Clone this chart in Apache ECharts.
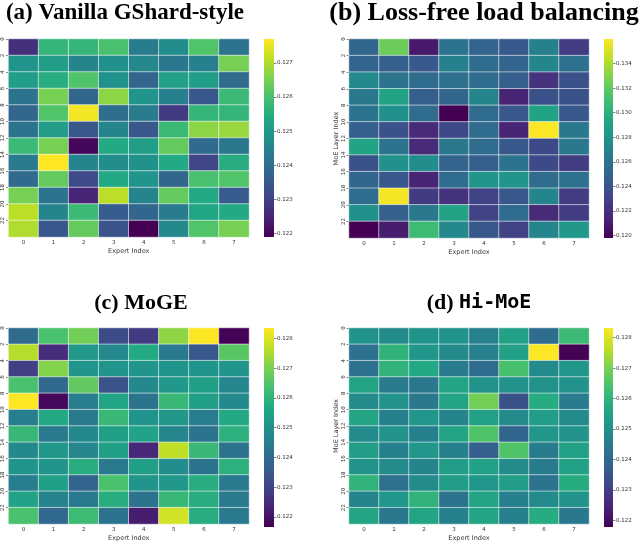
<!DOCTYPE html>
<html>
<head>
<meta charset="utf-8">
<script src="https://cdn.jsdelivr.net/npm/echarts@6/dist/echarts.min.js"></script>
<style>html,body{margin:0;padding:0;background:#fff;}#c{width:644px;height:543px;}</style>
</head>
<body>
<div id="c"></div>
<script>
const experts = ['0','1','2','3','4','5','6','7'];
const rowLabels = ['0','2','4','6','8','10','12','14','16','18','20','22'];

const vanilla = [
  [0.1227,0.1257,0.1257,0.1260,0.1243,0.1247,0.1261,0.1241],
  [0.1249,0.1251,0.1245,0.1248,0.1246,0.1242,0.1244,0.1265],
  [0.1251,0.1255,0.1261,0.1248,0.1238,0.1252,0.1251,0.1239],
  [0.1241,0.1265,0.1238,0.1267,0.1249,0.1244,0.1235,0.1258],
  [0.1238,0.1261,0.1276,0.1240,0.1243,0.1229,0.1257,0.1257],
  [0.1241,0.1251,0.1235,0.1245,0.1235,0.1258,0.1267,0.1268],
  [0.1258,0.1265,0.1220,0.1254,0.1251,0.1263,0.1239,0.1242],
  [0.1243,0.1277,0.1245,0.1247,0.1248,0.1254,0.1231,0.1255],
  [0.1239,0.1263,0.1232,0.1254,0.1249,0.1238,0.1260,0.1261],
  [0.1265,0.1241,0.1225,0.1271,0.1245,0.1263,0.1254,0.1236],
  [0.1271,0.1245,0.1258,0.1236,0.1238,0.1243,0.1253,0.1254],
  [0.1270,0.1235,0.1263,0.1234,0.1219,0.1246,0.1261,0.1265]
];
const lossFree = [
  [0.1251,0.1323,0.1209,0.1260,0.1250,0.1243,0.1268,0.1227],
  [0.1250,0.1247,0.1243,0.1268,0.1255,0.1250,0.1271,0.1258],
  [0.1274,0.1260,0.1255,0.1258,0.1255,0.1247,0.1222,0.1238],
  [0.1263,0.1292,0.1247,0.1251,0.1271,0.1214,0.1238,0.1238],
  [0.1260,0.1279,0.1255,0.1198,0.1255,0.1242,0.1292,0.1242],
  [0.1247,0.1238,0.1217,0.1234,0.1255,0.1214,0.1360,0.1263],
  [0.1292,0.1260,0.1217,0.1263,0.1255,0.1243,0.1234,0.1263],
  [0.1238,0.1279,0.1276,0.1250,0.1247,0.1260,0.1234,0.1227],
  [0.1251,0.1242,0.1214,0.1255,0.1282,0.1282,0.1255,0.1258],
  [0.1255,0.1358,0.1226,0.1222,0.1230,0.1242,0.1271,0.1227],
  [0.1279,0.1247,0.1263,0.1292,0.1230,0.1255,0.1217,0.1227],
  [0.1198,0.1211,0.1308,0.1274,0.1242,0.1230,0.1271,0.1284]
];
const moge = [
  [0.1240,0.1264,0.1269,0.1232,0.1228,0.1272,0.1284,0.1217],
  [0.1276,0.1225,0.1252,0.1248,0.1257,0.1244,0.1235,0.1266],
  [0.1229,0.1271,0.1251,0.1251,0.1251,0.1251,0.1251,0.1251],
  [0.1264,0.1240,0.1267,0.1234,0.1248,0.1252,0.1254,0.1247],
  [0.1284,0.1218,0.1245,0.1256,0.1242,0.1261,0.1254,0.1248],
  [0.1245,0.1257,0.1244,0.1261,0.1251,0.1252,0.1245,0.1257],
  [0.1261,0.1244,0.1248,0.1254,0.1255,0.1247,0.1242,0.1259],
  [0.1248,0.1252,0.1247,0.1254,0.1224,0.1277,0.1261,0.1242],
  [0.1251,0.1251,0.1258,0.1244,0.1254,0.1249,0.1242,0.1259],
  [0.1245,0.1254,0.1238,0.1264,0.1251,0.1252,0.1258,0.1244],
  [0.1255,0.1246,0.1244,0.1258,0.1242,0.1261,0.1258,0.1244],
  [0.1264,0.1239,0.1262,0.1242,0.1222,0.1279,0.1258,0.1244]
];
const hiMoe = [
  [0.1251,0.1249,0.1251,0.1251,0.1246,0.1255,0.1241,0.1262],
  [0.1242,0.1260,0.1252,0.1249,0.1246,0.1255,0.1283,0.1218],
  [0.1242,0.1260,0.1257,0.1245,0.1241,0.1264,0.1249,0.1252],
  [0.1256,0.1245,0.1244,0.1256,0.1251,0.1251,0.1251,0.1251],
  [0.1249,0.1251,0.1244,0.1256,0.1269,0.1234,0.1258,0.1245],
  [0.1256,0.1246,0.1252,0.1247,0.1255,0.1249,0.1254,0.1249],
  [0.1249,0.1251,0.1246,0.1256,0.1265,0.1239,0.1252,0.1251],
  [0.1254,0.1246,0.1252,0.1246,0.1238,0.1265,0.1245,0.1255],
  [0.1251,0.1249,0.1247,0.1254,0.1255,0.1249,0.1245,0.1255],
  [0.1260,0.1242,0.1249,0.1254,0.1252,0.1254,0.1243,0.1258],
  [0.1247,0.1252,0.1260,0.1243,0.1256,0.1246,0.1249,0.1251],
  [0.1256,0.1244,0.1256,0.1246,0.1256,0.1246,0.1258,0.1244]
];

const ranges = [[0.1219,0.1277],[0.1198,0.1360],[0.12166,0.12835],[0.12178,0.12832]];
const cbTicks = [
  [0.122,0.123,0.124,0.125,0.126,0.127],
  [0.120,0.122,0.124,0.126,0.128,0.130,0.132,0.134],
  [0.122,0.123,0.124,0.125,0.126,0.127,0.128],
  [0.122,0.123,0.124,0.125,0.126,0.127,0.128]
];
const titles = ['(a) Vanilla GShard-style','(b) Loss-free load balancing','(c) MoGE','(d) '];

const viridis = ['#440154','#482475','#414487','#355f8d','#2a788e','#21918c','#22a884','#44bf70','#7ad151','#bddf26','#fde725'];

const panels = [vanilla, lossFree, moge, hiMoe];
const boxes = [
  {l:8, t:39, w:241, h:198, cb:264, cbw:10, yname:false},
  {l:349, t:39, w:240, h:199, cb:604, cbw:9, yname:true},
  {l:8, t:328, w:241, h:199, cb:264, cbw:10, yname:false},
  {l:349, t:328, w:240, h:199, cb:604, cbw:9, yname:true}
];

const grid = [], xAxis = [], yAxis = [], series = [], visualMap = [];
const lab = {fontFamily:'DejaVu Sans', fontSize:5.5, color:'#333'};
const nameStyle = {fontFamily:'DejaVu Sans', fontSize:6.5, color:'#333'};
const gradStops = viridis.map((c,i)=>({offset:1 - i/(viridis.length-1), color:c}));

panels.forEach((mat, p) => {
  const b = boxes[p];
  grid.push({left:b.l, top:b.t, width:b.w, height:b.h, containLabel:false});
  const gi = grid.length - 1;
  xAxis.push({type:'category', gridIndex:gi, data:experts, position:'bottom',
    axisLine:{show:false}, axisTick:{show:true, alignWithLabel:true, length:2.5, lineStyle:{color:'#333', width:0.6}},
    axisLabel:Object.assign({margin:3}, lab), splitLine:{show:false},
    name:'Expert Index', nameLocation:'middle', nameGap:11, nameTextStyle:nameStyle});
  const hx = xAxis.length - 1;
  yAxis.push({type:'category', gridIndex:gi, data:rowLabels, inverse:true, show:false});
  const hy = yAxis.length - 1;
  yAxis.push({type:'value', gridIndex:gi, min:0, max:24, interval:2, inverse:true, position:'left',
    axisLine:{show:false}, splitLine:{show:false},
    axisTick:{show:true, length:2.5, lineStyle:{color:'#333', width:0.6}},
    axisLabel:Object.assign({rotate:90, margin:2.5, showMaxLabel:false,
      formatter:(v)=> rowLabels.indexOf(String(v))>=0 ? String(v) : ''}, lab),
    name: b.yname ? 'MoE Layer Index' : '', nameLocation:'middle', nameGap:9, nameTextStyle:nameStyle});
  const data = [];
  mat.forEach((row, r) => row.forEach((v, c) => data.push([c, r, v])));
  series.push({type:'heatmap', xAxisIndex:hx, yAxisIndex:hy, data:data,
    itemStyle:{borderColor:'rgba(255,255,255,0.55)', borderWidth:1}, emphasis:{disabled:true}});
  visualMap.push({type:'continuous', show:false, seriesIndex:series.length-1, dimension:2,
    min:ranges[p][0], max:ranges[p][1], inRange:{color:viridis}});

  grid.push({left:b.cb, top:b.t, width:b.cbw, height:b.h, show:true, borderWidth:0,
    backgroundColor:{type:'linear', x:0, y:0, x2:0, y2:1, colorStops:gradStops}});
  const ci = grid.length - 1;
  xAxis.push({type:'category', gridIndex:ci, data:['a'], show:false});
  yAxis.push({type:'value', gridIndex:ci, min:ranges[p][0], max:ranges[p][1], position:'right',
    axisLine:{show:false}, splitLine:{show:false},
    axisTick:{show:true, length:2.5, customValues:cbTicks[p], lineStyle:{color:'#333', width:0.6}},
    axisLabel:Object.assign({margin:3, customValues:cbTicks[p], formatter:(v)=>v.toFixed(3)}, lab)});
});

const serifA = 'bold 23px "Liberation Serif", "DejaVu Serif", serif';
const serifB = 'bold 26px "Liberation Serif", "DejaVu Serif", serif';
const serifC = 'bold 22px "Liberation Serif", "DejaVu Serif", serif';
const graphic = [
  {type:'text', x:125, y:13, style:{text:titles[0], font:serifA, fill:'#000', textAlign:'center', textVerticalAlign:'middle'}},
  {type:'text', x:484, y:13, style:{text:titles[1], font:serifB, fill:'#000', textAlign:'center', textVerticalAlign:'middle'}},
  {type:'text', x:141, y:303, style:{text:titles[2], font:serifC, fill:'#000', textAlign:'center', textVerticalAlign:'middle'}},
  {type:'text', x:479, y:303, style:{text:'{a|' + titles[3] + '}{b|Hi-MoE}', textAlign:'center', textVerticalAlign:'middle',
    rich:{a:{font:serifC, fill:'#000'}, b:{font:'bold 20px "DejaVu Sans Mono", monospace', fill:'#000'}}}}
];

const chart = echarts.init(document.getElementById('c'), null, {renderer:'canvas'});
chart.setOption({animation:false, backgroundColor:'#fff', grid, xAxis, yAxis, series, visualMap, graphic});
</script>
</body>
</html>
